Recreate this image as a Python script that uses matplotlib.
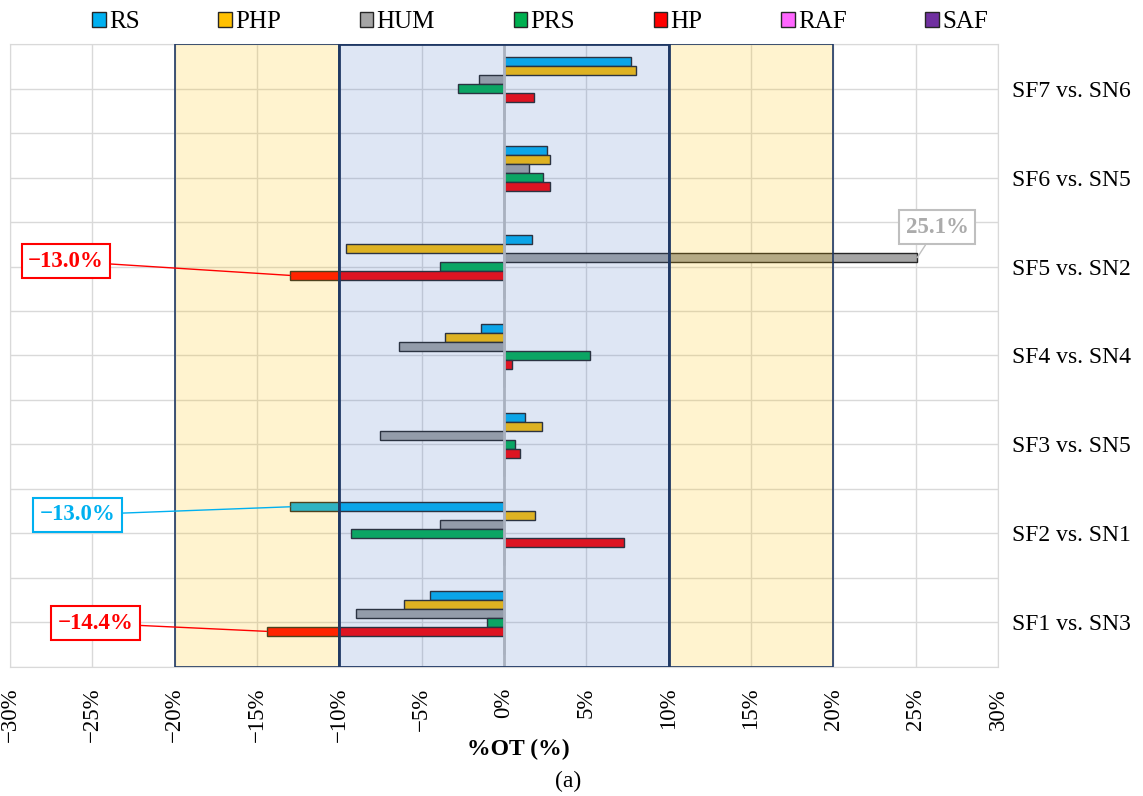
import numpy as np
import matplotlib
matplotlib.use('Agg')
import matplotlib.pyplot as plt
from matplotlib.patches import Rectangle, Patch
from matplotlib.ticker import MultipleLocator, FixedLocator, FuncFormatter

plt.rcParams['font.family'] = ['Liberation Serif', 'DejaVu Serif']

# data, groups listed top to bottom
groups = ['SF7 vs. SN6', 'SF6 vs. SN5', 'SF5 vs. SN2', 'SF4 vs. SN4',
          'SF3 vs. SN5', 'SF2 vs. SN1', 'SF1 vs. SN3']
series = ['RS', 'PHP', 'HUM', 'PRS', 'HP', 'RAF', 'SAF']
rs = [7.7, 2.6, 1.7, -1.4, 1.3, -13.0, -4.5]
php = [8.0, 2.8, -9.6, -3.6, 2.3, 1.9, -6.1]
hum = [-1.5, 1.5, 25.1, -6.4, -7.5, -3.9, -9.0]
prs = [-2.8, 2.4, -3.9, 5.2, 0.7, -9.3, -1.0]
hp = [1.8, 2.8, -13.0, 0.5, 1.0, 7.3, -14.4]
raf = [0, 0, 0, 0, 0, 0, 0]
saf = [0, 0, 0, 0, 0, 0, 0]
values = [rs, php, hum, prs, hp, raf, saf]
colors = ['#00B0F0', '#FFC000', '#A5A5A5', '#00B050', '#FF0000', '#FF66FF', '#7030A0']

fig = plt.figure(figsize=(11.43, 7.96), dpi=100)
ax = fig.add_axes([0.00875, 0.1621, 0.8643, 0.7826])

n = len(series)
bh = 0.1
ypos = np.arange(len(groups))
for k in range(n):
    ax.barh(ypos + (k - 3) * bh, values[k], height=bh, color=colors[k],
            edgecolor='#262626', linewidth=1, zorder=3)

# zero line
ax.axvline(0, color='#BFBFBF', lw=2, zorder=3.5)

# translucent bands over the bars
for x0, x1, fc, lw in [(-20, -10, (1.0, 0.753, 0.0, 0.19), 1.2),
                       (10, 20, (1.0, 0.753, 0.0, 0.19), 1.2),
                       (-10, 10, (0.267, 0.447, 0.769, 0.176), 2.0)]:
    ax.add_patch(Rectangle((x0, -0.5), x1 - x0, len(groups), facecolor=fc,
                           edgecolor='#1F3864', linewidth=lw, zorder=4))

ax.set_xlim(-30, 30)
ax.set_ylim(len(groups) - 0.5, -0.5)
ax.xaxis.set_major_locator(MultipleLocator(5))
ax.xaxis.set_major_formatter(FuncFormatter(
    lambda v, p: ('\u2212' if v < 0 else '') + '%d%%' % abs(round(v))))
ax.yaxis.set_major_locator(FixedLocator(ypos))
ax.yaxis.set_minor_locator(FixedLocator(np.arange(-0.5, len(groups), 1)))
ax.set_yticklabels(groups)
ax.yaxis.tick_right()
ax.grid(True, which='both', color='#D9D9D9', lw=1, zorder=0)
ax.set_axisbelow(True)
ax.tick_params(axis='x', length=0, pad=15, labelsize=16.5, labelrotation=90)
ax.tick_params(axis='y', which='both', length=0, pad=10, labelsize=17)
for s in ax.spines.values():
    s.set_color('#D9D9D9')

# callouts
def callout(text, x, y, tx, ty, c, ec):
    ax.annotate(text, xy=(x, y), xytext=(tx, ty), ha='center', va='center',
                fontsize=16.5, fontweight='bold', color=c, zorder=6,
                bbox=dict(boxstyle='square,pad=0.28', fc='white', ec=ec, lw=1.5),
                arrowprops=dict(arrowstyle='-', color=ec, lw=1,
                                shrinkA=0, shrinkB=0))

callout('\u221213.0%', hp[2], 2 + 1 * bh, -26.6, 1.94, '#FF0000', '#FF0000')
callout('25.1%', hum[2], 2 - 1 * bh, 26.3, 1.56, '#ABABAB', '#BFBFBF')
callout('\u221213.0%', rs[5], 5 - 3 * bh, -25.9, 4.79, '#00B0F0', '#00B0F0')
callout('\u221214.4%', hp[6], 6 + 1 * bh, -24.8, 6.01, '#FF0000', '#FF0000')

handles = [Patch(facecolor=c, edgecolor='#262626', lw=1) for c in colors]
fig.legend(handles, series, loc='center', bbox_to_anchor=(540 / 1143, 1 - 22 / 796),
           ncol=7, frameon=False, fontsize=18, handlelength=0.55, handleheight=0.55,
           handletextpad=0.12, columnspacing=3.15)

fig.text(518 / 1143, 1 - 749 / 796, '%OT (%)', ha='center', va='center',
         fontsize=17, fontweight='bold')
fig.text(568 / 1143, 1 - 781 / 796, '(a)', ha='center', va='center', fontsize=17)

fig.savefig('out.png', dpi=100)
